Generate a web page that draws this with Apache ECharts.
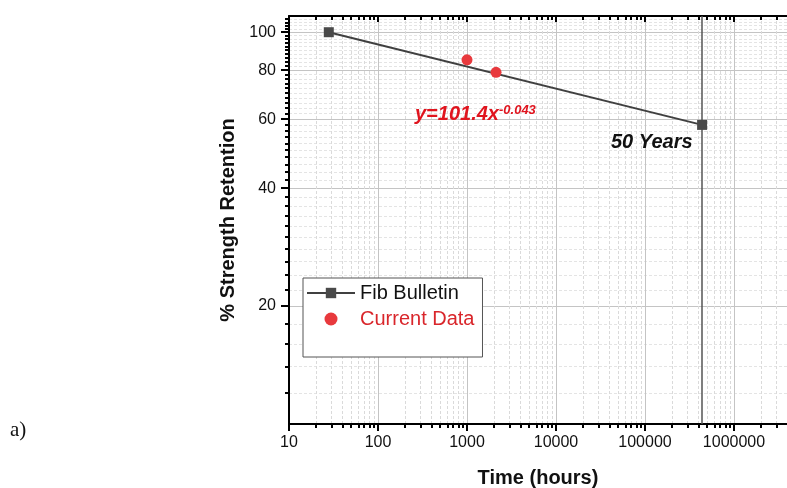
<!DOCTYPE html>
<html>
<head>
<meta charset="utf-8">
<script src="https://cdn.jsdelivr.net/npm/echarts@6/dist/echarts.min.js"></script>
<style>
  html, body { margin: 0; padding: 0; background: #fff; }
  #main { width: 787px; height: 488px; }
</style>
</head>
<body>
<div id="main"></div>
<script>
// data
var fibHours = [28, 438000];
var fibRetention = [100, 58];
var curHours = [1000, 2120];
var curRetention = [85, 79];
var fiftyYears = 438000;

// ticks
var xMajor = [10, 100, 1000, 10000, 100000, 1000000];
var xMinor = [20, 30, 40, 50, 60, 70, 80, 90,
              200, 300, 400, 500, 600, 700, 800, 900,
              2000, 3000, 4000, 5000, 6000, 7000, 8000, 9000,
              20000, 30000, 40000, 50000, 60000, 70000, 80000, 90000,
              200000, 300000, 400000, 500000, 600000, 700000, 800000, 900000,
              2000000, 3000000];
var yMajor = [20, 40, 60, 80, 100];
var yMinor = [12, 14, 16, 18, 22, 24, 26, 28, 30, 32, 34, 36, 38,
              42, 44, 46, 48, 50, 52, 54, 56, 58,
              62, 64, 66, 68, 70, 72, 74, 76, 78,
              82, 84, 86, 88, 90, 92, 94, 96, 98, 102, 104, 106, 108];

var xMin = 10, xMax = 3940000, yMin = 10, yMax = 110;

var myChart = echarts.init(document.getElementById('main'));

var fibData = fibHours.map(function (h, i) { return [h, fibRetention[i]]; });
var curData = curHours.map(function (h, i) { return [h, curRetention[i]]; });

function plain(v) { return String(v); }

var option = {
    animation: false,
    grid: { left: 289, top: 16, right: 0, bottom: 64, outerBoundsMode: 'none', containLabel: false },
    xAxis: [
        {   // bottom, major
            type: 'log', min: xMin, max: xMax, position: 'bottom',
            name: 'Time (hours)', nameLocation: 'middle', nameGap: 44,
            nameTextStyle: { fontFamily: 'Liberation Sans', fontWeight: 'bold', fontSize: 20, color: '#111' },
            axisLine: { lineStyle: { color: '#000', width: 2 } },
            axisTick: { customValues: xMajor, length: 7, lineStyle: { color: '#000', width: 2 } },
            axisLabel: { customValues: xMajor, formatter: plain, margin: 11,
                         fontFamily: 'Liberation Sans', fontSize: 16, color: '#111' },
            splitLine: { show: true, lineStyle: { color: '#c4c4c4', width: 1 } }
        },
        {   // bottom, minor
            type: 'log', min: xMin, max: xMax, position: 'bottom',
            axisLine: { show: false },
            axisTick: { customValues: xMinor, length: 4, lineStyle: { color: '#000', width: 2 } },
            axisLabel: { show: false },
            splitLine: { show: true, lineStyle: { color: '#dadada', width: 1, type: [3, 2] } }
        },
        {   // top, major
            type: 'log', min: xMin, max: xMax, position: 'top',
            axisLine: { lineStyle: { color: '#000', width: 2 } },
            axisTick: { inside: true, customValues: xMajor, length: 6, lineStyle: { color: '#000', width: 2 } },
            axisLabel: { show: false },
            splitLine: { show: false }
        },
        {   // top, minor
            type: 'log', min: xMin, max: xMax, position: 'top',
            axisLine: { show: false },
            axisTick: { inside: true, customValues: xMinor, length: 4, lineStyle: { color: '#000', width: 2 } },
            axisLabel: { show: false },
            splitLine: { show: false }
        }
    ],
    yAxis: [
        {
            type: 'log', min: yMin, max: yMax, position: 'left',
            name: '% Strength Retention', nameLocation: 'middle', nameGap: 47,
            nameTextStyle: { fontFamily: 'Liberation Sans', fontWeight: 'bold', fontSize: 20, color: '#111' },
            axisLine: { lineStyle: { color: '#000', width: 2 } },
            axisTick: { customValues: yMajor, length: 8, lineStyle: { color: '#000', width: 2 } },
            axisLabel: { customValues: yMajor, formatter: plain, margin: 13,
                         fontFamily: 'Liberation Sans', fontSize: 16, color: '#111' },
            splitLine: { show: true, lineStyle: { color: '#c4c4c4', width: 1 } }
        },
        {
            type: 'log', min: yMin, max: yMax, position: 'left',
            axisLine: { show: false },
            axisTick: { customValues: yMinor, length: 4, lineStyle: { color: '#000', width: 2 } },
            axisLabel: { show: false },
            splitLine: { show: true, lineStyle: { color: '#e4e4e4', width: 1, type: [3, 2] } }
        }
    ],
    legend: {
        orient: 'vertical',
        left: 303, top: 278,
        padding: [5, 8, 28, 3],
        itemWidth: 48, itemHeight: 13, itemGap: 6,
        backgroundColor: '#fff',
        borderColor: '#555', borderWidth: 1, borderRadius: 0,
        textStyle: { fontFamily: 'Liberation Sans', fontSize: 20 },
        data: [
            { name: 'Fib Bulletin', textStyle: { color: '#111' } },
            { name: 'Current Data', textStyle: { color: '#d9262b' } }
        ]
    },
    series: [
        {
            name: 'Fib Bulletin',
            type: 'line',
            xAxisIndex: 0, yAxisIndex: 0,
            data: fibData,
            symbol: 'rect', symbolSize: 10,
            itemStyle: { color: '#4a4a4a' },
            lineStyle: { color: '#404040', width: 2 },
            z: 5,
            markLine: {
                silent: true,
                symbol: ['none', 'none'],
                label: { show: false },
                lineStyle: { color: '#555', width: 1.5, type: 'solid' },
                data: [{ xAxis: fiftyYears }]
            }
        },
        {
            name: 'Current Data',
            type: 'scatter',
            xAxisIndex: 0, yAxisIndex: 0,
            data: curData,
            symbol: 'circle', symbolSize: 11,
            itemStyle: { color: '#e8393d', opacity: 1 },
            z: 6
        }
    ],
    graphic: [
        {
            type: 'text', left: 415, top: 104, z: 10,
            style: {
                text: '{a|y=101.4x}{b|-0.043}',
                rich: {
                    a: { fontFamily: 'Liberation Sans', fontWeight: 'bold', fontStyle: 'italic', fontSize: 20, fill: '#e0141e' },
                    b: { fontFamily: 'Liberation Sans', fontWeight: 'bold', fontStyle: 'italic', fontSize: 13, fill: '#e0141e', verticalAlign: 'top' }
                }
            }
        },
        {
            type: 'text', left: 611, top: 132, z: 10,
            style: { text: '50 Years', fontFamily: 'Liberation Sans', fontWeight: 'bold', fontStyle: 'italic', fontSize: 20, fill: '#111' }
        },
        {
            type: 'text', left: 10, top: 420, z: 10,
            style: { text: 'a)', fontFamily: 'Liberation Serif', fontSize: 21, fill: '#111' }
        }
    ]
};

option && myChart.setOption(option);
</script>
</body>
</html>
